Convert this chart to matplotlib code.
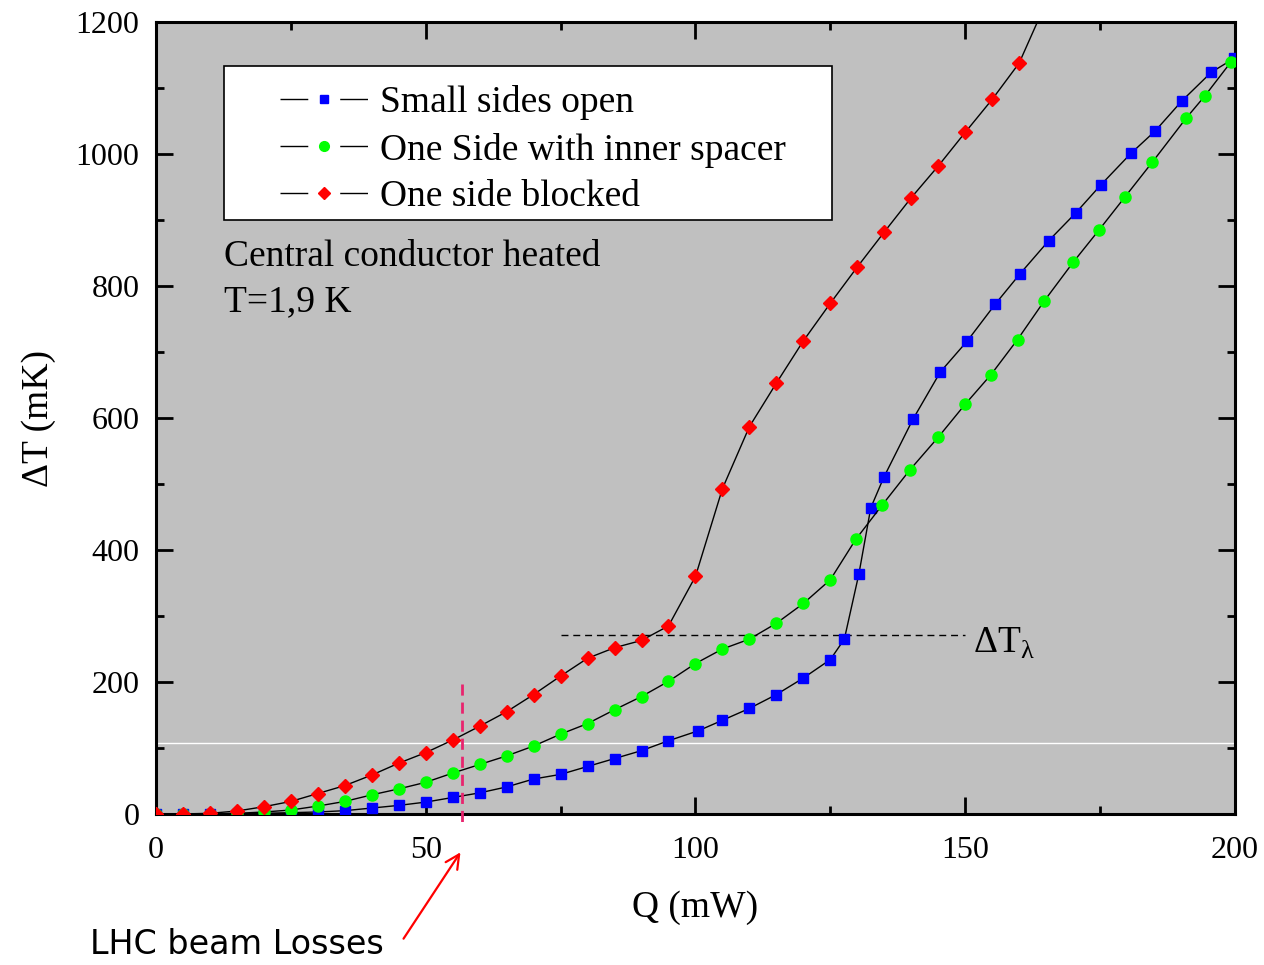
import matplotlib
matplotlib.use("Agg")
import matplotlib.pyplot as plt
from matplotlib.lines import Line2D
from matplotlib.patches import Rectangle
from matplotlib.ticker import MultipleLocator

plt.rcParams["font.family"] = ["Liberation Serif", "DejaVu Serif"]

# heat load Q (mW) and temperature rise dT (mK) for the three configurations
q_open = [0, 5, 10, 15, 20, 25, 30, 35, 40, 45, 50, 55, 60, 65, 70, 75, 80, 85,
          90, 95, 100.5, 105, 110, 115, 120, 125, 127.6, 130.3, 132.5, 134.9,
          140.3, 145.4, 150.4, 155.6, 160.2, 165.5, 170.5, 175.1, 180.7, 185.2,
          190.2, 195.6, 199.8]
dt_open = [0, 0, 0, 0, 1, 2, 3, 5, 9, 13, 18, 25, 32, 41, 53, 60, 72, 84,
           96, 111, 126, 142, 160, 181, 206, 234, 265, 364, 464, 510,
           598, 670, 717, 773, 819, 869, 911, 953, 1001, 1035,
           1081, 1124, 1145]

q_spacer = [0, 5, 10, 15, 20, 25, 30, 35, 40, 45, 50, 55, 60, 65, 70, 75, 80,
            85, 90, 95, 100, 105, 110, 115, 120, 125, 129.7, 134.6, 139.8, 145,
            150, 154.8, 159.7, 164.7, 170, 174.8, 179.6, 184.7, 191, 194.4, 199.2]
dt_spacer = [0, 0, 0, 1, 3, 6, 12, 19, 29, 38, 48, 62, 75, 88, 103, 121, 137,
             158, 178, 201, 228, 250, 265, 289, 319, 355, 416, 468, 522, 571,
             621, 666, 719, 778, 836, 885, 935, 988, 1055, 1088, 1139]

q_blocked = [0, 5, 10, 15, 20, 25, 30, 35, 40, 45, 50, 55, 60, 65, 70, 75, 80,
             85, 90, 95, 100, 105, 110, 115, 120, 125, 130, 135, 140, 145, 150,
             155, 160, 165]
dt_blocked = [0, 0, 1, 4.5, 11, 19, 31, 43, 59, 77, 93, 112, 133, 155, 181, 209,
              236, 252, 263, 285, 360, 493, 587, 653, 717, 774, 829, 882, 934,
              982, 1033, 1083, 1138, 1230]

labels = ["Small sides open", "One Side with inner spacer", "One side blocked"]

dt_lambda = 271      # lambda transition level (mK)
q_lhc = 56.7         # LHC beam loss heat load (mW)
white_level = 108

fig = plt.figure(figsize=(12.64, 9.65), dpi=100)
ax = fig.add_axes([0.1234, 0.1565, 0.8536, 0.8205])
ax.set_facecolor("#c0c0c0")

ax.axhline(white_level, color="white", lw=1.0, zorder=1)

ax.plot(q_open, dt_open, color="black", lw=1.0, marker="s", ms=7.5,
        mfc="#0000ff", mec="#0000ff", zorder=3)
ax.plot(q_spacer, dt_spacer, color="black", lw=1.0, marker="o", ms=8,
        mfc="#00ff00", mec="#00ff00", zorder=4)
ax.plot(q_blocked, dt_blocked, color="black", lw=1.0, marker="D", ms=7,
        mfc="#ff0000", mec="#ff0000", zorder=5)

# lambda line
ax.plot([75, 150], [dt_lambda, dt_lambda], color="black", lw=1.0,
        ls=(0, (5, 3.5)), zorder=2)
ax.text(151.5, dt_lambda - 12, r"ΔT$_\mathregular{λ}$", fontsize=27,
        va="center", ha="left")

# beam loss marker
ax.plot([q_lhc, q_lhc], [197, -13], color="#e8246e", lw=2.0,
        ls=(0, (4, 2.5)), clip_on=False, zorder=6)

ax.text(0.063, 0.725, "Central conductor heated\nT=1,9 K", fontsize=27,
        transform=ax.transAxes, va="top", ha="left", linespacing=1.38)

ax.set_xlim(0, 200)
ax.set_ylim(0, 1200)
ax.xaxis.set_major_locator(MultipleLocator(50))
ax.xaxis.set_minor_locator(MultipleLocator(25))
ax.yaxis.set_major_locator(MultipleLocator(200))
ax.yaxis.set_minor_locator(MultipleLocator(100))
ax.tick_params(which="both", direction="in", top=True, right=True, width=2.0)
ax.tick_params(which="major", length=12, labelsize=23, pad=12)
ax.tick_params(which="minor", length=6)
ax.tick_params(axis="x", which="major", pad=16)
for s in ax.spines.values():
    s.set_linewidth(2.2)

ax.set_xlabel("Q (mW)", fontsize=27, labelpad=18)
ax.set_ylabel("ΔT (mK)", fontsize=27, labelpad=14)

# legend frame drawn separately so the padding can be set freely
ax.add_patch(Rectangle((0.063, 0.75), 0.5635, 0.1944, transform=ax.transAxes,
                       facecolor="white", edgecolor="black", lw=1.2, zorder=7))

# legend handles: line - marker - line
dash = (0, (20, 23, 20, 100))
handles = []
for mk, c, ms in [("s", "#0000ff", 6), ("o", "#00ff00", 7), ("D", "#ff0000", 6)]:
    ln = Line2D([], [], color="black", lw=1.0, ls=dash)
    pt = Line2D([], [], ls="none", marker=mk, ms=ms, mfc=c, mec=c)
    handles.append((ln, pt))
leg = ax.legend(handles, labels, loc="upper left",
                bbox_to_anchor=(0.115, 0.9205), fontsize=27, frameon=False,
                handlelength=2.35, handletextpad=0.32, labelspacing=0.33,
                borderpad=0, borderaxespad=0)
leg.set_zorder(8)

fig.text(90 / 1264, 1 - 945 / 965, "LHC beam Losses", fontsize=24,
         family=["DejaVu Sans"], va="center", ha="left")
ax.annotate("", xy=(462, 965 - 850), xycoords="figure pixels",
            xytext=(402, 965 - 941), textcoords="figure pixels",
            arrowprops=dict(arrowstyle="->,head_length=1.0,head_width=0.5",
                            color="#ff0000", lw=1.6))

fig.savefig("out.png", dpi=100)
